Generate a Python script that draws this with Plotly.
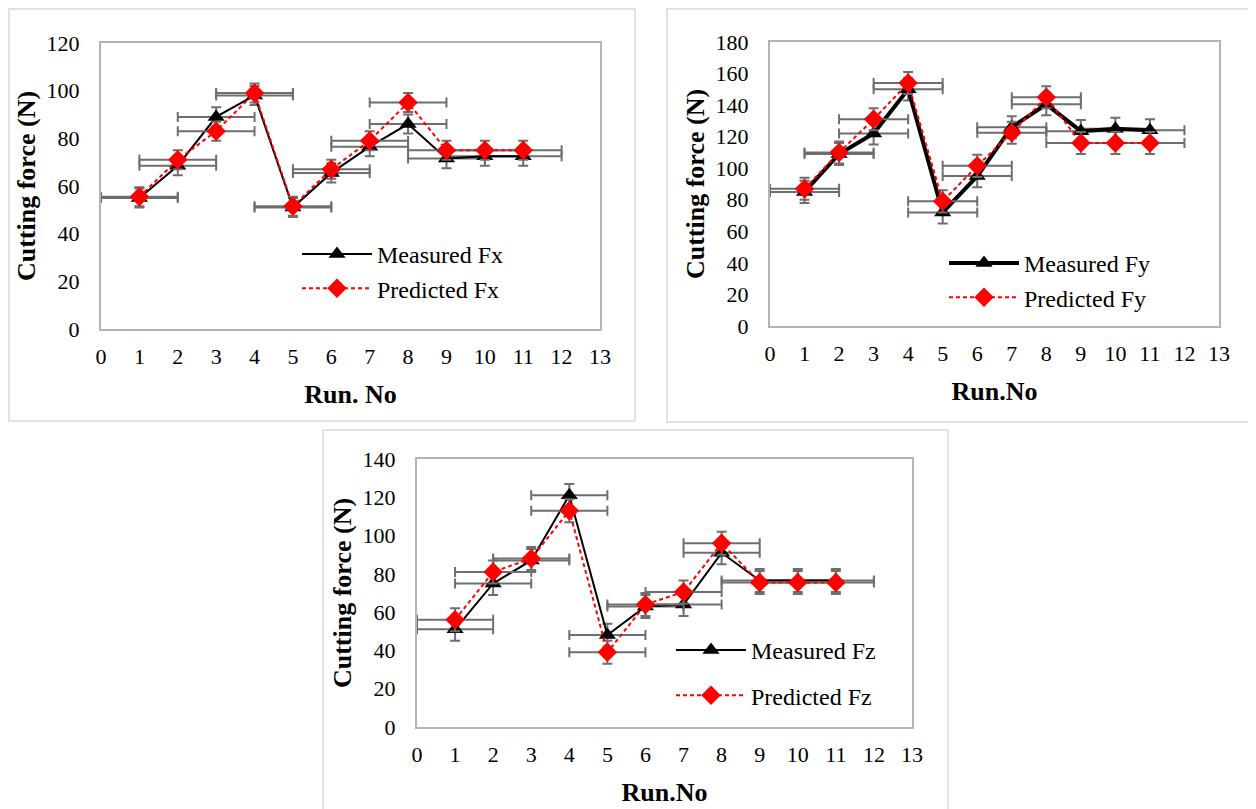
import plotly.graph_objects as go

# ---- data ----
runs = [1, 2, 3, 4, 5, 6, 7, 8, 9, 10, 11]
x_ticks = list(range(0, 14))

fx_measured = [55, 68.5, 89, 98, 51, 65.5, 76.5, 86, 71.5, 72.5, 72.5]
fx_predicted = [55.5, 71, 83, 99, 51.5, 67, 79, 95, 75, 75, 75]

fy_measured = [85, 109, 122, 150, 72, 95, 126, 140.5, 123.5, 125, 124]
fy_predicted = [87, 110, 131, 154, 79, 101.5, 122.5, 145, 116, 116, 116]

fz_measured = [51, 75, 87, 121, 48, 63, 64, 91, 76.5, 76.5, 76.5]
fz_predicted = [56, 81, 88, 113, 39, 64, 70.5, 96, 75.5, 75.5, 75.5]

fx_err = 4
fy_err = 7
fz_err = 6
run_err = 1

# the page body has an 8px default margin: the figure starts at (8, 8)
OFF = 8
W, H = 1256 - OFF, 809 - OFF
FONT = "Liberation Serif, Times New Roman, serif"
ERR_COLOR = "#6e6e6e"


def px_x(v):
    return (v - OFF) / W


def px_y(v):
    return 1 - (v - OFF) / H


panels = [
    dict(key="", meas=fx_measured, pred=fx_predicted, err=fx_err, ymax=120, name="Fx",
         xt="Run. No", xd=[101, 600], yd=[329, 43], mw=2, box=[9, 635, 9, 421],
         leg=dict(x=297, y=232, gap=0)),
    dict(key="2", meas=fy_measured, pred=fy_predicted, err=fy_err, ymax=180, name="Fy",
         xt="Run.No", xd=[770, 1219], yd=[326, 42], mw=4, box=[667, 1255, 9, 422],
         leg=dict(x=944, y=241, gap=0)),
    dict(key="3", meas=fz_measured, pred=fz_predicted, err=fz_err, ymax=140, name="Fz",
         xt="Run.No", xd=[417, 912], yd=[727, 459], mw=2, box=[323, 948, 430, 812],
         leg=dict(x=671, y=628, gap=11)),
]

fig = go.Figure()
layout = dict(
    width=W, height=H,
    margin=dict(l=0, r=0, t=0, b=0, autoexpand=False),
    paper_bgcolor="white", plot_bgcolor="white",
    template="none",
    font=dict(family=FONT, color="black"),
    shapes=[],
)

for p in panels:
    k = p["key"]
    xa = "x" + k
    ya = "y" + k
    lg = "legend" + k
    fig.add_trace(go.Scatter(
        x=runs, y=p["meas"], xaxis=xa, yaxis=ya, legend=lg,
        name="Measured " + p["name"], legendgroup="m" + p["name"],
        mode="lines+markers",
        line=dict(color="black", width=p["mw"]),
        marker=dict(symbol="triangle-up", size=15, color="black"),
        error_y=dict(type="constant", value=p["err"], color=ERR_COLOR, thickness=2, width=5),
        error_x=dict(type="constant", value=run_err, color=ERR_COLOR, thickness=2, width=5),
    ))
    fig.add_trace(go.Scatter(
        x=runs, y=p["pred"], xaxis=xa, yaxis=ya, legend=lg,
        name="Predicted " + p["name"], legendgroup="p" + p["name"],
        mode="lines+markers",
        line=dict(color="#ff0000", width=2, dash="4px,3px"),
        marker=dict(symbol="diamond", size=15, color="#ff0000"),
        error_y=dict(type="constant", value=p["err"], color=ERR_COLOR, thickness=2, width=5),
        error_x=dict(type="constant", value=run_err, color=ERR_COLOR, thickness=2, width=5),
    ))

    layout["xaxis" + k] = dict(
        domain=[px_x(p["xd"][0]), px_x(p["xd"][1])], anchor=ya,
        range=[0, 13], tickmode="array", tickvals=x_ticks,
        ticks="", showgrid=False, zeroline=False,
        showline=True, mirror=True, linecolor="#b4b4b4", linewidth=2,
        tickfont=dict(family=FONT, size=22, color="black"),
        ticklabelstandoff=7, automargin=False,
        title=dict(text="<b>" + p["xt"] + "</b>", font=dict(family=FONT, size=26, color="black"), standoff=16),
    )
    layout["yaxis" + k] = dict(
        domain=[px_y(p["yd"][0]), px_y(p["yd"][1])], anchor=xa,
        range=[0, p["ymax"]], dtick=20,
        ticks="", showgrid=False, zeroline=False,
        showline=True, mirror=True, linecolor="#b4b4b4", linewidth=2,
        tickfont=dict(family=FONT, size=22, color="black"),
        ticklabelstandoff=15, automargin=False,
        title=dict(text="<b>Cutting force (N)</b>", font=dict(family=FONT, size=26, color="black"), standoff=3),
    )
    layout[lg] = dict(
        x=px_x(p["leg"]["x"]), xanchor="left",
        y=px_y(p["leg"]["y"]), yanchor="top",
        bgcolor="rgba(0,0,0,0)", borderwidth=0,
        font=dict(family=FONT, size=24, color="black"),
        itemwidth=70, tracegroupgap=p["leg"]["gap"],
    )
    b = p["box"]
    layout["shapes"].append(dict(
        type="rect", xref="paper", yref="paper",
        x0=px_x(b[0]), x1=px_x(b[1]), y0=px_y(b[3]), y1=px_y(b[2]),
        line=dict(color="#d9d9d9", width=1.5), layer="below",
    ))

fig.update_layout(**layout)
fig.write_html("out.html")
